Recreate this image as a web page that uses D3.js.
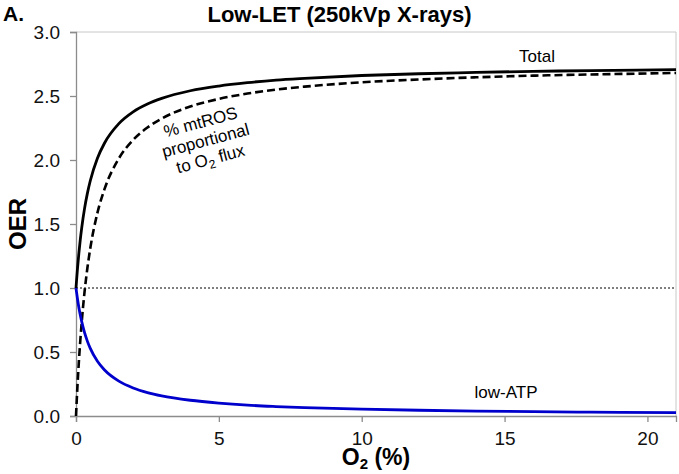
<!DOCTYPE html>
<html>
<head>
<meta charset="utf-8">
<script src="https://cdn.jsdelivr.net/npm/d3@7"></script>
<style>
  html, body { margin: 0; padding: 0; background: #fff; }
  svg { display: block; font-family: Arial, "Liberation Sans", sans-serif; }
</style>
</head>
<body>
<svg id="chart" width="679" height="474"></svg>
<script>
// ---- data ----
const o2 = [0, 0.02, 0.05, 0.1, 0.15, 0.2, 0.3, 0.4, 0.5, 0.75, 1, 1.5, 2, 2.5, 3, 4, 5, 6, 7, 8, 10, 12, 14, 16, 18, 21];
const totalOER = [1.0, 1.062, 1.147, 1.271, 1.378, 1.470, 1.622, 1.741, 1.838, 2.014, 2.133, 2.284, 2.376, 2.437, 2.481, 2.541, 2.578, 2.604, 2.624, 2.638, 2.660, 2.674, 2.684, 2.693, 2.698, 2.706];
const mtrosOER = [0, 0.096, 0.229, 0.423, 0.589, 0.733, 0.971, 1.158, 1.310, 1.587, 1.774, 2.012, 2.157, 2.254, 2.324, 2.418, 2.477, 2.519, 2.550, 2.573, 2.607, 2.629, 2.646, 2.659, 2.668, 2.680];
const lowAtpOER = [1.0, 0.966, 0.918, 0.848, 0.789, 0.737, 0.651, 0.583, 0.528, 0.427, 0.359, 0.272, 0.219, 0.183, 0.157, 0.123, 0.101, 0.085, 0.074, 0.065, 0.053, 0.045, 0.038, 0.034, 0.030, 0.026];
const xTicks = [0, 5, 10, 15, 20];
const yTicks = [0.0, 0.5, 1.0, 1.5, 2.0, 2.5, 3.0];
const referenceLine = 1.0;

// ---- layout ----
const W = 679, H = 474;
const margin = { left: 76, top: 32, right: 3, bottom: 58 };
const svg = d3.select("#chart");
svg.append("rect").attr("width", W).attr("height", H).attr("fill", "#fff");

const x = d3.scaleLinear().domain([0, 21]).range([margin.left, W - margin.right]);
const y = d3.scaleLinear().domain([0, 3]).range([H - margin.bottom, margin.top]);

const axisColor = "#8c8c8c";

// frame top/right
svg.append("line").attr("x1", x(0)).attr("x2", x(21)).attr("y1", y(3)).attr("y2", y(3))
  .attr("stroke", "#c8c8c8").attr("stroke-width", 1);
svg.append("line").attr("x1", x(21)).attr("x2", x(21)).attr("y1", y(3)).attr("y2", y(0))
  .attr("stroke", "#c8c8c8").attr("stroke-width", 1);

// axes
const xAxis = svg.append("g").attr("transform", `translate(0,${y(0)})`)
  .call(d3.axisBottom(x).tickValues(xTicks).tickSize(6).tickPadding(5).tickFormat(d3.format("d")));
const yAxis = svg.append("g").attr("transform", `translate(${x(0)},0)`)
  .call(d3.axisLeft(y).tickValues(yTicks).tickSize(6).tickPadding(10).tickFormat(d3.format(".1f")));
[xAxis, yAxis].forEach(g => {
  g.select(".domain").attr("stroke", axisColor).attr("stroke-width", 1.3);
  g.selectAll(".tick line").attr("stroke", axisColor).attr("stroke-width", 1.3);
  g.selectAll(".tick text").attr("fill", "#111").attr("font-size", 19)
    .attr("font-family", "Arial, 'Liberation Sans', sans-serif");
});
xAxis.selectAll(".tick text").attr("dy", "0.95em");

// reference dotted line at OER = 1
svg.append("line").attr("x1", x(0)).attr("x2", x(21))
  .attr("y1", y(referenceLine)).attr("y2", y(referenceLine))
  .attr("stroke", "#000").attr("stroke-width", 1).attr("stroke-dasharray", "2,2");

// curves
const line = (vals) => d3.line().x((d, i) => x(o2[i])).y(d => y(d)).curve(d3.curveMonotoneX)(vals);
svg.append("path").attr("d", line(mtrosOER)).attr("fill", "none")
  .attr("stroke", "#000").attr("stroke-width", 2.6).attr("stroke-dasharray", "8,4");
svg.append("path").attr("d", line(lowAtpOER)).attr("fill", "none")
  .attr("stroke", "#0000cc").attr("stroke-width", 2.8);
svg.append("path").attr("d", line(totalOER)).attr("fill", "none")
  .attr("stroke", "#000").attr("stroke-width", 2.8);

// labels
svg.append("text").attr("x", 3).attr("y", 21).attr("font-size", 21).attr("font-weight", "bold").text("A.");
svg.append("text").attr("x", W / 2).attr("y", 22).attr("text-anchor", "middle")
  .attr("font-size", 22).attr("font-weight", "bold").text("Low-LET (250kVp X-rays)");

svg.append("text").attr("transform", `translate(26,${(y(0) + y(3)) / 2}) rotate(-90)`)
  .attr("text-anchor", "middle").attr("font-size", 24).attr("font-weight", "bold").text("OER");

const xl = svg.append("text").attr("x", (x(0) + x(21)) / 2).attr("y", 465)
  .attr("text-anchor", "middle").attr("font-size", 23).attr("font-weight", "bold");
xl.append("tspan").text("O");
xl.append("tspan").attr("font-size", 15).attr("dy", 4).text("2");
xl.append("tspan").attr("dy", -4).text(" (%)");

svg.append("text").attr("x", 537).attr("y", 62).attr("text-anchor", "middle").attr("font-size", 17).text("Total");
svg.append("text").attr("x", 506).attr("y", 398).attr("text-anchor", "middle").attr("font-size", 17).text("low-ATP");

const ann = svg.append("g").attr("transform", "translate(207,146) rotate(-15)")
  .attr("font-size", 17).attr("text-anchor", "middle");
ann.append("text").attr("y", -19).text("% mtROS");
ann.append("text").attr("y", 0).text("proportional");
const t3 = ann.append("text").attr("y", 19);
t3.append("tspan").text("to O");
t3.append("tspan").attr("font-size", 12).attr("dy", 4).text("2");
t3.append("tspan").attr("dy", -4).text(" flux");
</script>
</body>
</html>
